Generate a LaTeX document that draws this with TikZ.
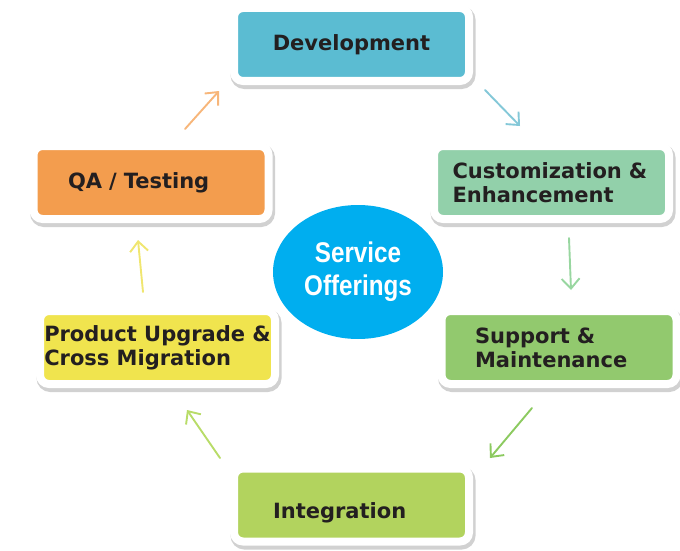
\documentclass[tikz,border=0pt]{standalone}
\usepackage{fontspec}
\usepackage{tikz}
\usetikzlibrary{arrows.meta, shapes.geometric}

\newfontfamily\boxfont{DejaVu Sans}
\newfontfamily\hubfont[FakeStretch=0.85]{Liberation Sans}

\definecolor{ink}{RGB}{35,31,32}
\definecolor{devblue}{RGB}{91,188,210}
\definecolor{custgreen}{RGB}{146,208,170}
\definecolor{qaorange}{RGB}{243,157,78}
\definecolor{prodyellow}{RGB}{240,228,78}
\definecolor{suppgreen}{RGB}{146,201,110}
\definecolor{integgreen}{RGB}{178,211,94}
\definecolor{hubblue}{RGB}{0,174,239}

\tikzset{
  svcbox/.style={rounded corners=9pt, draw=white, line width=8pt,
    minimum width=235pt, minimum height=73pt, inner sep=0pt,
    font=\boxfont\bfseries\fontsize{21}{24}\selectfont, text=ink, align=left,
    preaction={draw=black!18, line width=10pt,
      transform canvas={xshift=1.5pt,yshift=-3pt}}},
  hub/.style={ellipse, fill=hubblue, minimum width=170pt, minimum height=134pt,
    inner sep=0pt, text=white, align=center,
    font=\hubfont\bfseries\fontsize{28.5}{33}\selectfont},
  flow/.style={line width=1.9pt, line cap=round,
    -{Straight Barb[length=10pt,width=18pt,line width=1.9pt]}}
}

\begin{document}
\begin{tikzpicture}[x=1pt,y=-1pt]
  \useasboundingbox (0,0) rectangle (680,551);

  % boxes round the cycle
  \node[svcbox, fill=devblue, align=center] (dev) at (351.5,44.5) {Development};
  \node[svcbox, fill=custgreen, text width=198pt] (cust) at (551.5,182.5) {Customization \&\\Enhancement};
  \node[svcbox, fill=suppgreen, text width=168pt] (supp) at (559,347.5) {Support \&\\Maintenance};
  \node[svcbox, fill=integgreen, text width=157pt, text height=30pt, text depth=4pt] (integ) at (351.5,505) {Integration};
  \node[svcbox, fill=prodyellow] (prod) at (157.5,347.5) {Product Upgrade \&\\Cross Migration};
  \node[svcbox, fill=qaorange, text width=166pt] (qa) at (151,182.5) {QA / Testing};

  % centre
  \node[hub] (core) at (358,272) {Service\\Offerings};

  % arrow ends
  \coordinate (qaout) at (185,129);
  \coordinate (devin) at (219,91);
  \coordinate (devout) at (485,90);
  \coordinate (custin) at (520,126);
  \coordinate (custout) at (569,238);
  \coordinate (suppin) at (571,290);
  \coordinate (suppout) at (532,408);
  \coordinate (integin) at (490,458);
  \coordinate (integout) at (220,458);
  \coordinate (prodin) at (187,410);
  \coordinate (prodout) at (143,292);
  \coordinate (qain) at (138,240);

  \draw[flow, color={rgb,255:red,247;green,182;blue,122}] (qaout) -- (devin);
  \draw[flow, color={rgb,255:red,132;green,200;blue,216}] (devout) -- (custin);
  \draw[flow, color={rgb,255:red,152;green,214;blue,160}] (custout) -- (suppin);
  \draw[flow, color={rgb,255:red,140;green,202;blue,96}] (suppout) -- (integin);
  \draw[flow, color={rgb,255:red,184;green,220;blue,104}] (integout) -- (prodin);
  \draw[flow, color={rgb,255:red,240;green,230;blue,112}] (prodout) -- (qain);
\end{tikzpicture}
\end{document}
